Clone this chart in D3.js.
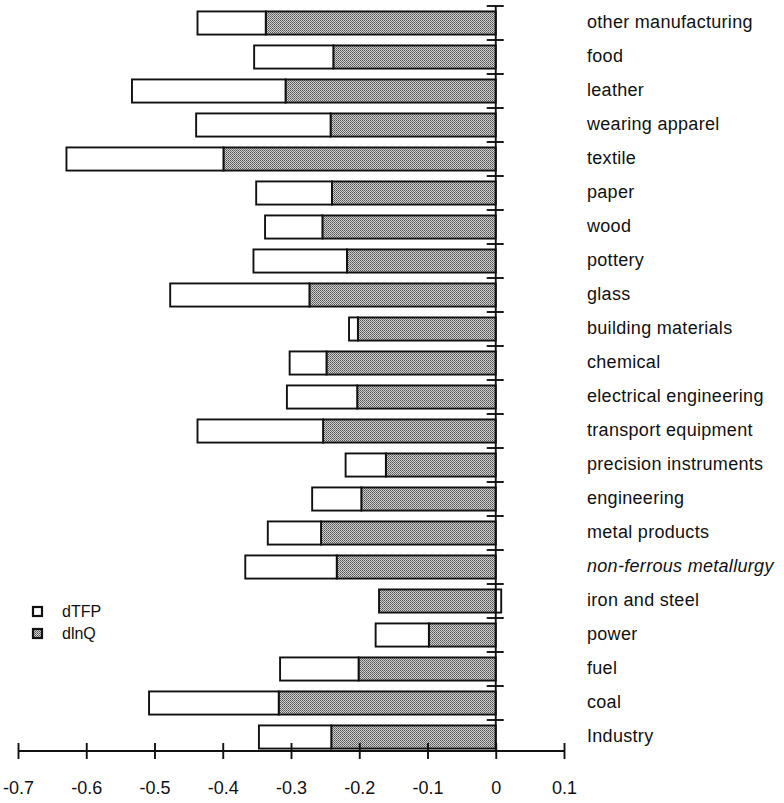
<!DOCTYPE html>
<html>
<head>
<meta charset="utf-8">
<script src="https://cdn.jsdelivr.net/npm/d3@7"></script>
<style>
  html, body { margin: 0; padding: 0; background: #fff; }
  svg { display: block; }
  text { font-family: "Liberation Sans", Arial, Helvetica, sans-serif; fill: #111; }
</style>
</head>
<body>
<svg id="chart" width="784" height="803"></svg>
<script>
const categories = [
  "other manufacturing", "food", "leather", "wearing apparel", "textile",
  "paper", "wood", "pottery", "glass", "building materials", "chemical",
  "electrical engineering", "transport equipment", "precision instruments",
  "engineering", "metal products", "non-ferrous metallurgy", "iron and steel",
  "power", "fuel", "coal", "Industry"
];
const dlnQ = [
  -0.337, -0.238, -0.308, -0.242, -0.399,
  -0.240, -0.254, -0.218, -0.273, -0.202, -0.248,
  -0.203, -0.253, -0.161,
  -0.197, -0.256, -0.233, -0.171,
  -0.098, -0.201, -0.318, -0.241
];
const dTFP = [
  -0.100, -0.116, -0.225, -0.197, -0.230,
  -0.111, -0.084, -0.137, -0.204, -0.013, -0.054,
  -0.103, -0.184, -0.059,
  -0.072, -0.078, -0.134, 0.008,
  -0.078, -0.115, -0.190, -0.106
];
const xTicks = [-0.7, -0.6, -0.5, -0.4, -0.3, -0.2, -0.1, 0, 0.1];
const xTickLabels = ["-0.7", "-0.6", "-0.5", "-0.4", "-0.3", "-0.2", "-0.1", "0", "0.1"];
const seriesNames = ["dTFP", "dlnQ"];

const svg = d3.select("#chart");
const defs = svg.append("defs");
const pat = defs.append("pattern").attr("id", "stipple")
  .attr("width", 2).attr("height", 2).attr("patternUnits", "userSpaceOnUse");
pat.append("rect").attr("width", 2).attr("height", 2).attr("fill", "#cfcfcf");
pat.append("rect").attr("x", 0).attr("y", 0).attr("width", 1).attr("height", 1).attr("fill", "#555");
pat.append("rect").attr("x", 1).attr("y", 1).attr("width", 1).attr("height", 1).attr("fill", "#737373");

const x = d3.scaleLinear().domain([-0.7, 0.1]).range([18, 564]);
const y = d3.scaleBand().domain(categories).range([6, 754])
  .paddingInner(0.32).paddingOuter(0.16);

const rows = categories.map((c, i) => ({ cat: c, dlnQ: dlnQ[i], dTFP: dTFP[i] }));
const stack = d3.stack().keys(["dlnQ", "dTFP"]).offset(d3.stackOffsetDiverging);
const layers = stack(rows);
const fills = { dlnQ: "url(#stipple)", dTFP: "#ffffff" };

const g = svg.append("g");
layers.forEach(layer => {
  g.selectAll(null).data(layer).enter().append("rect")
    .attr("x", d => x(Math.min(d[0], d[1])))
    .attr("width", d => Math.abs(x(d[1]) - x(d[0])))
    .attr("y", d => y(d.data.cat))
    .attr("height", y.bandwidth())
    .attr("fill", fills[layer.key])
    .attr("stroke", "#111")
    .attr("stroke-width", 1.9);
});

// vertical zero axis with category separators
const x0 = x(0);
const step = y.step();
const sepOffset = y.paddingInner() * step / 2;
svg.append("line")
  .attr("x1", x0).attr("x2", x0)
  .attr("y1", y(categories[0]) - sepOffset).attr("y2", 751)
  .attr("stroke", "#111").attr("stroke-width", 1.9);
svg.selectAll(".sep").data(categories).enter().append("line")
  .attr("class", "sep")
  .attr("x1", x0 - 9).attr("x2", x0 + 8)
  .attr("y1", d => y(d) - sepOffset).attr("y2", d => y(d) - sepOffset)
  .attr("stroke", "#111").attr("stroke-width", 1.9);

// category labels
svg.selectAll(".cat").data(categories).enter().append("text")
  .attr("class", "cat")
  .attr("x", 587)
  .attr("y", d => y(d) + y.bandwidth() / 2 + 5)
  .attr("font-size", 18)
  .attr("letter-spacing", 0.3)
  .style("font-style", d => d === "non-ferrous metallurgy" ? "italic" : "normal")
  .text(d => d);

// bottom axis
const axis = d3.axisBottom(x)
  .tickValues(xTicks)
  .tickFormat((d, i) => xTickLabels[i])
  .tickSize(8)
  .tickPadding(22);
const ax = svg.append("g").attr("transform", "translate(0,751)").call(axis);
ax.select(".domain").attr("stroke", "#111").attr("stroke-width", 1.9).attr("d", `M${x(-0.7)},0H${x(0.1)}`);
ax.selectAll(".tick line").attr("y1", -8).attr("y2", 8).attr("stroke", "#111").attr("stroke-width", 1.9);
ax.selectAll(".tick text").attr("font-size", 18).attr("fill", "#111")
  .attr("font-family", "'Liberation Sans', Arial, Helvetica, sans-serif");

// legend
const legend = svg.append("g").attr("transform", "translate(33,607)");
seriesNames.forEach((name, i) => {
  const lg = legend.append("g").attr("transform", `translate(0,${i * 22})`);
  lg.append("rect").attr("width", 9).attr("height", 9)
    .attr("fill", name === "dTFP" ? "#ffffff" : "url(#stipple)")
    .attr("stroke", "#111").attr("stroke-width", 2.2);
  lg.append("text").attr("x", 29).attr("y", 10).attr("font-size", 16).text(name);
});
</script>
</body>
</html>
